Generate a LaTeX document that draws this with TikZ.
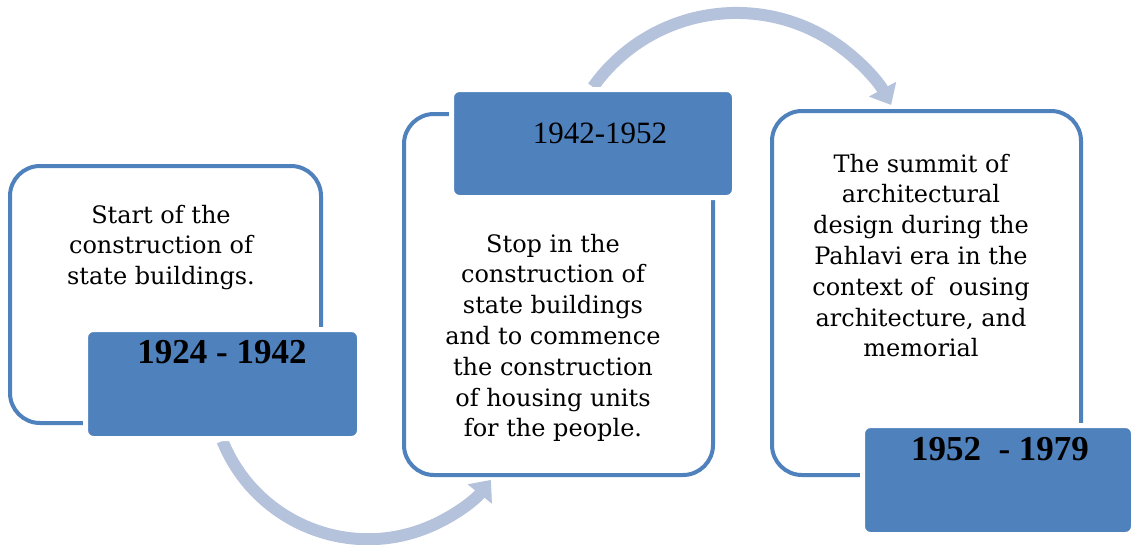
\documentclass[tikz,border=0pt]{standalone}
\usepackage{fontspec}
\setmainfont{DejaVu Serif}
\newfontfamily\datefont{Liberation Serif}
\usetikzlibrary{arrows.meta,positioning}
\definecolor{boxblue}{RGB}{79,129,189}
\definecolor{arcblue}{RGB}{180,194,220}

\begin{document}
\begin{tikzpicture}[x=1pt,y=-1pt,
    event box/.style={rectangle,draw=boxblue,line width=4pt,rounded corners=30pt,fill=white,inner sep=0pt},
    date box/.style={rectangle,draw=white,line width=5pt,rounded corners=8pt,fill=boxblue,inner sep=0pt},
    date text/.style={font=\datefont\fontsize{35}{40}\selectfont\bfseries,anchor=base,inner sep=0pt},
    body text/.style={font=\fontsize{24}{30.8}\selectfont,align=center,anchor=north,inner sep=0pt},
    flow/.style={arcblue,line width=12pt,-{Triangle[width=30pt,length=18pt]}}]

  \useasboundingbox (0,0) rectangle (1131,544);

  % date boxes first, so the arcs can start from them
  \node[date box,minimum width=274pt,minimum height=109pt] (d1) at (222.5,384) {};
  \node[date box,minimum width=283pt,minimum height=108pt] (d2) at (593,143.5) {};
  \node[date box,minimum width=271pt,minimum height=109pt] (d3) at (998,480) {};

  % arcs
  \draw[flow] (d1.south) arc[start angle=158,end angle=38.5,radius=157];
  \draw[flow] (d2.north) arc[start angle=-144.6,end angle=-28.5,radius=176];

  % event boxes
  \node[event box,minimum width=311pt,minimum height=257pt] (box1) at (165.5,294.5) {};
  \node[event box,minimum width=309pt,minimum height=361pt] (box2) at (558.5,294.5) {};
  \node[event box,minimum width=309pt,minimum height=364pt] (box3) at (926.5,293) {};

  % date boxes again on top
  \node[date box,minimum width=274pt,minimum height=109pt] (d1top) at (d1) {};
  \node[date box,minimum width=283pt,minimum height=108pt] (d2top) at (d2) {};
  \node[date box,minimum width=271pt,minimum height=109pt] (d3top) at (d3) {};

  \node[date text] (t1) at (222,363) {1924 - 1942};
  \node[date text,font=\datefont\fontsize{31}{36}\selectfont] (t2) at (600,143) {1942-1952};
  \node[date text] (t3) at (1000,460) {1952~ - 1979};

  \node[body text] (b1) at (161,201.4) {\strut Start of the\\construction of\\state buildings.};
  \node[body text] (b2) at (553,230.4) {\strut Stop in the\\construction of\\state buildings\\and to commence\\the construction\\of housing units\\for the people.};
  \node[body text] (b3) at (921,150.4) {\strut The summit of\\architectural\\design during the\\Pahlavi era in the\\context of~ ousing\\architecture, and\\memorial};
\end{tikzpicture}
\end{document}
